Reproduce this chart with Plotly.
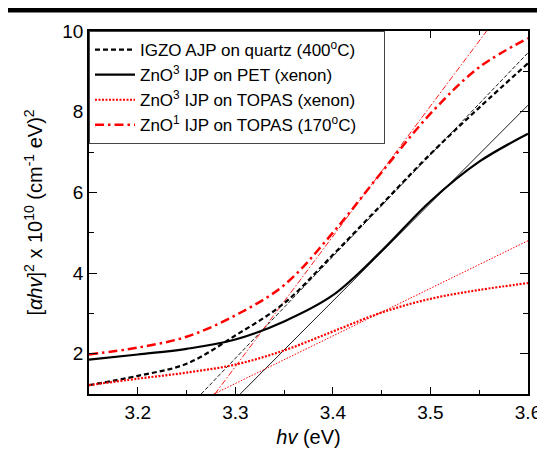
import plotly.graph_objects as go

# Photon energy grid (eV)
hv = [3.15, 3.20, 3.25, 3.30, 3.35, 3.40, 3.45, 3.50, 3.55, 3.60]

# Measured curves, [alpha*hv]^2 x 1e10
igzo_quartz = [1.22, 1.45, 1.75, 2.45, 3.25, 4.45, 5.70, 6.95, 8.10, 9.20]
zno3_pet = [1.85, 1.98, 2.12, 2.35, 2.80, 3.45, 4.55, 5.78, 6.76, 7.45]
zno3_topas = [1.22, 1.38, 1.53, 1.73, 2.08, 2.55, 3.02, 3.36, 3.58, 3.75]
zno1_topas = [1.98, 2.15, 2.42, 2.95, 3.70, 5.00, 6.50, 7.95, 9.10, 9.82]

# Linear band-gap extrapolation lines (end points)
fit_igzo_x, fit_igzo_y = [3.265, 3.60], [1.0, 9.46]
fit_pet_x, fit_pet_y = [3.305, 3.60], [1.0, 8.16]
fit_topas_x, fit_topas_y = [3.278, 3.60], [1.0, 4.80]
fit_zno1_x, fit_zno1_y = [3.279, 3.60], [1.0, 11.37]

names = [
    "IGZO AJP on quartz (400<sup>o</sup>C)\u00a0\u00a0\u00a0\u00a0\u00a0",
    "ZnO<sup>3</sup> IJP on PET (xenon)",
    "ZnO<sup>3</sup> IJP on TOPAS (xenon)",
    "ZnO<sup>1</sup> IJP on TOPAS (170<sup>o</sup>C)",
]

FONT = "Liberation Sans, Arial, sans-serif"

fig = go.Figure()

# thin fit lines
fig.add_trace(go.Scatter(x=fit_igzo_x, y=fit_igzo_y, mode="lines", showlegend=False,
                         line=dict(color="black", width=0.9, dash="4px,2px")))
fig.add_trace(go.Scatter(x=fit_pet_x, y=fit_pet_y, mode="lines", showlegend=False,
                         line=dict(color="black", width=0.9)))
fig.add_trace(go.Scatter(x=fit_topas_x, y=fit_topas_y, mode="lines", showlegend=False,
                         line=dict(color="red", width=1, dash="1.5px,1.5px")))
fig.add_trace(go.Scatter(x=fit_zno1_x, y=fit_zno1_y, mode="lines", showlegend=False,
                         line=dict(color="red", width=0.9, dash="6px,2px,1.5px,2px")))

# measured curves
fig.add_trace(go.Scatter(x=hv, y=igzo_quartz, mode="lines", name=names[0],
                         line=dict(color="black", width=2.2, dash="5px,3px", shape="spline")))
fig.add_trace(go.Scatter(x=hv, y=zno3_pet, mode="lines", name=names[1],
                         line=dict(color="black", width=2.2, shape="spline")))
fig.add_trace(go.Scatter(x=hv, y=zno3_topas, mode="lines", name=names[2],
                         line=dict(color="red", width=2.2, dash="2px,1.5px", shape="spline")))
fig.add_trace(go.Scatter(x=hv, y=zno1_topas, mode="lines", name=names[3],
                         line=dict(color="red", width=2.5, dash="9px,4px,2.5px,4px", shape="spline")))

axis_common = dict(
    showline=True, linecolor="black", linewidth=1.5, mirror="allticks",
    ticks="inside", tickcolor="black", tickwidth=1.3,
    showgrid=False, zeroline=False,
    tickfont=dict(family=FONT, size=19, color="black"),
)

fig.update_xaxes(
    range=[3.15, 3.6], tickmode="array", tickvals=[3.2, 3.3, 3.4, 3.5, 3.6],
    ticktext=["3.2", "3.3", "3.4", "3.5", "3.6"], ticklen=7,
    minor=dict(tickvals=[3.25, 3.35, 3.45, 3.55], ticklen=4, ticks="inside",
               tickcolor="black", tickwidth=1.3),
    title=dict(text="<i>hv</i> (eV)", font=dict(family=FONT, size=20, color="black"), standoff=8),
    **axis_common,
)
fig.update_yaxes(
    range=[1, 10], tickmode="array", tickvals=[2, 4, 6, 8, 10],
    ticktext=["2", "4", "6", "8", "10"], ticklen=8,
    minor=dict(tickvals=[1, 3, 5, 7, 9], ticklen=5, ticks="inside",
               tickcolor="black", tickwidth=1.3),
    title=dict(text="[<i>αhv</i>]<sup>2</sup> x 10<sup>10</sup> (cm<sup>-1</sup> eV)<sup>2</sup>",
               font=dict(family=FONT, size=20, color="black"), standoff=14),
    **axis_common,
)

fig.update_layout(
    width=545, height=449,
    margin=dict(l=81, r=15, t=23, b=59),
    paper_bgcolor="white", plot_bgcolor="white",
    font=dict(family=FONT, color="black"),
    legend=dict(x=0, y=1, xanchor="left", yanchor="top",
                bgcolor="white", bordercolor="#444", borderwidth=1,
                font=dict(family=FONT, size=17, color="black"),
                tracegroupgap=0, itemwidth=40),
    shapes=[dict(type="rect", xref="paper", yref="paper",
                 x0=-0.2, x1=1.05, y0=1.051, y1=1.07,
                 fillcolor="black", line=dict(width=0), layer="above")],
)

fig.write_html("out.html")
